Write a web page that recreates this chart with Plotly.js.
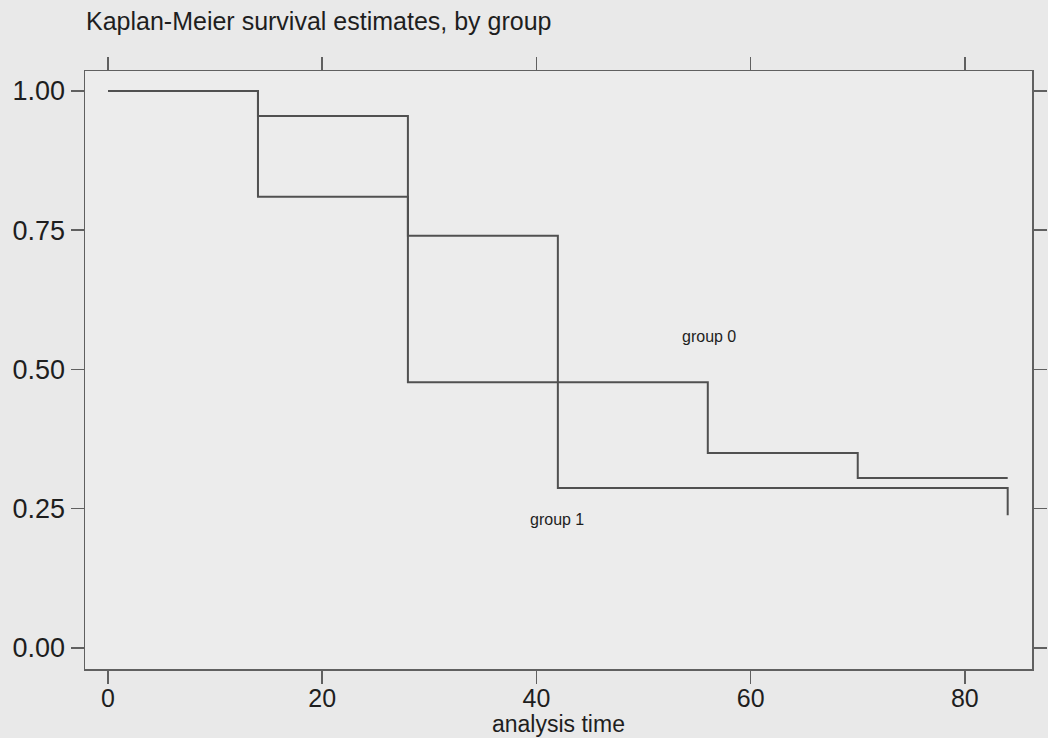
<!DOCTYPE html>
<html>
<head>
<meta charset="utf-8">
<script src="https://cdn.plot.ly/plotly-3.0.1.min.js"></script>
<style>
  html, body { margin: 0; padding: 0; background: #e9e9e9; }
  #chart { width: 1048px; height: 738px; }
</style>
</head>
<body>
<div id="chart"></div>
<script>
// Kaplan-Meier step data (time, survival)
const group0Time = [0, 14, 28, 56, 70, 84];
const group0Surv = [1.0, 0.81, 0.477, 0.35, 0.305, 0.305];
const group1Time = [0, 14, 28, 42, 84];
const group1Surv = [1.0, 0.955, 0.74, 0.287, 0.238];

const xTickVals = [0, 20, 40, 60, 80];
const xTickText = ['0', '20', '40', '60', '80'];
const yTickVals = [0, 0.25, 0.5, 0.75, 1.0];
const yTickText = ['0.00', '0.25', '0.50', '0.75', '1.00'];

const seriesNames = ['group 0', 'group 1'];

const lineColor = '#505050';
const frameColor = '#606060';
const textColor = '#1e1e1e';
const fontFam = '"Liberation Sans", Arial, sans-serif';

const traces = [
  { x: group0Time, y: group0Surv, name: seriesNames[0], mode: 'lines',
    line: { shape: 'hv', color: lineColor, width: 2 }, hoverinfo: 'skip' },
  { x: group1Time, y: group1Surv, name: seriesNames[1], mode: 'lines',
    line: { shape: 'hv', color: lineColor, width: 2 }, hoverinfo: 'skip' }
];

const layout = {
  width: 1048, height: 738,
  paper_bgcolor: '#e9e9e9',
  plot_bgcolor: '#ececec',
  showlegend: false,
  margin: { l: 85, r: 16, t: 71, b: 69, autoexpand: false },
  font: { family: fontFam, color: textColor },
  title: {
    text: 'Kaplan-Meier survival estimates, by group',
    font: { size: 25, family: fontFam, color: textColor },
    xref: 'container', yref: 'container',
    x: 86 / 1048, xanchor: 'left',
    y: 1 - 21 / 738, yanchor: 'middle'
  },
  xaxis: {
    range: [-2.15, 86.27],
    tickvals: xTickVals, ticktext: xTickText,
    ticks: 'outside', ticklen: 13, tickwidth: 1.5, tickcolor: frameColor,
    showline: true, linecolor: frameColor, linewidth: 1.5, mirror: 'allticks',
    showgrid: false, zeroline: false,
    ticklabelstandoff: -7,
    tickfont: { size: 25, family: fontFam, color: textColor },
    automargin: false
  },
  yaxis: {
    range: [-0.038, 1.036],
    tickvals: yTickVals, ticktext: yTickText,
    ticks: 'outside', ticklen: 13, tickwidth: 1.5, tickcolor: frameColor,
    showline: true, linecolor: frameColor, linewidth: 1.5, mirror: 'allticks',
    showgrid: false, zeroline: false,
    tickfont: { size: 27, family: fontFam, color: textColor },
    automargin: false
  },
  annotations: [
    { x: 56.1, y: 0.559, xref: 'x', yref: 'y', text: seriesNames[0], showarrow: false,
      font: { size: 16, family: fontFam, color: textColor } },
    { x: 41.9, y: 0.23, xref: 'x', yref: 'y', text: seriesNames[1], showarrow: false,
      font: { size: 16, family: fontFam, color: textColor } },
    { x: 0.5, y: 0, xref: 'paper', yref: 'paper', text: 'analysis time', showarrow: false,
      yanchor: 'middle', font: { size: 23, family: fontFam, color: textColor } }
  ]
};
// place the x-axis title annotation in pixel space (centre at y = 724 px)
layout.annotations[2].y = (738 - 69 - 724) / (738 - 71 - 69);

Plotly.newPlot('chart', traces, layout, { displayModeBar: false, staticPlot: true });
</script>
</body>
</html>
